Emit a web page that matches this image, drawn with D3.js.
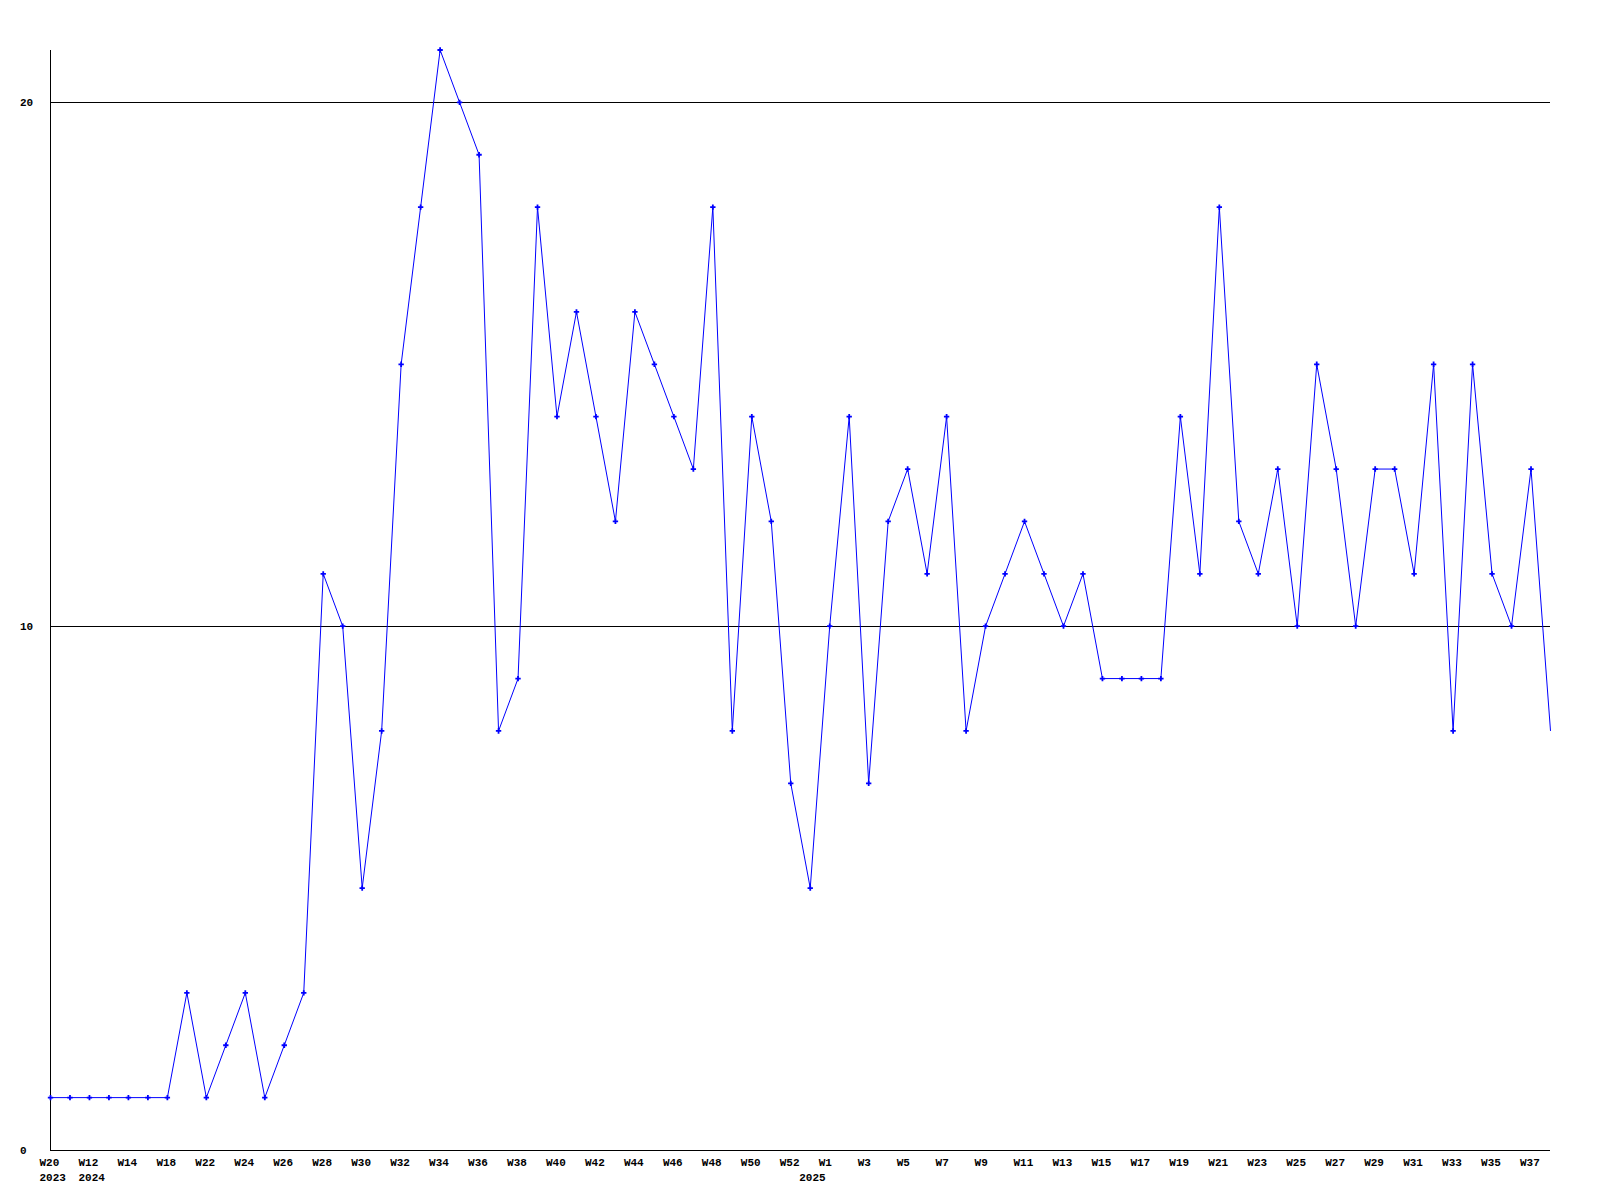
<!DOCTYPE html>
<html>
<head>
<meta charset="utf-8">
<script src="https://cdn.jsdelivr.net/npm/d3@7"></script>
<style>
  body { margin: 0; background: #fff; }
  text { font-family: "Liberation Mono", "DejaVu Sans Mono", monospace; font-weight: bold; font-size: 11px; fill: #000; }
</style>
</head>
<body>
<div id="chart"></div>
<script>
// week labels, one per point
var weeks = ["W20", "W40", "W12", "W13", "W14", "W16", "W18", "W20",
  "W22", "W23", "W24", "W25", "W26", "W27", "W28", "W29", "W30", "W31", "W32", "W33",
  "W34", "W35", "W36", "W37", "W38", "W39", "W40", "W41", "W42", "W43", "W44", "W45",
  "W46", "W47", "W48", "W49", "W50", "W51", "W52",
  "W0", "W1", "W2", "W3", "W4", "W5", "W6", "W7", "W8", "W9", "W10", "W11", "W12",
  "W13", "W14", "W15", "W16", "W17", "W18", "W19", "W20", "W21", "W22", "W23", "W24",
  "W25", "W26", "W27", "W28", "W29", "W30", "W31", "W32", "W33", "W34", "W35", "W36",
  "W37", "W38"];

var counts = [1, 1, 1, 1, 1, 1, 1, 3,
  1, 2, 3, 1, 2, 3, 11, 10, 5, 8, 15, 18,
  21, 20, 19, 8, 9, 18, 14, 16, 14, 12, 16, 15,
  14, 13, 18, 8, 14, 12, 7,
  5, 10, 14, 7, 12, 13, 11, 14, 8, 10, 11, 12, 11,
  10, 11, 9, 9, 9, 9, 14, 11, 18, 12, 11, 13,
  10, 15, 13, 10, 13, 13, 11, 15, 8, 15, 11, 10,
  13, 8];

// year labels and the point where each year starts
var years = ["2023", "2024", "2025"];
var yearStart = [0, 2, 39];

var yTicks = [0, 10, 20];

var svgWidth = 1600, svgHeight = 1200;

var svg = d3.select("#chart").append("svg")
  .attr("width", svgWidth)
  .attr("height", svgHeight);

var x = d3.scalePoint()
  .domain(d3.range(counts.length))
  .range([50.5, 1550.5]);

var y = d3.scaleLinear()
  .domain([0, 21])
  .range([1150, 50]);

// gridlines
svg.append("g").selectAll("line")
  .data(yTicks.filter(d => d > 0))
  .enter().append("line")
  .attr("x1", 50).attr("x2", 1550)
  .attr("y1", d => Math.round(y(d)) + 0.5)
  .attr("y2", d => Math.round(y(d)) + 0.5)
  .attr("stroke", "#000")
  .attr("shape-rendering", "crispEdges");

// axes lines
svg.append("line")
  .attr("x1", 50.5).attr("x2", 50.5)
  .attr("y1", 50).attr("y2", 1150.5)
  .attr("stroke", "#000")
  .attr("shape-rendering", "crispEdges");
svg.append("line")
  .attr("x1", 50).attr("x2", 1550)
  .attr("y1", 1150.5).attr("y2", 1150.5)
  .attr("stroke", "#000")
  .attr("shape-rendering", "crispEdges");

// y labels
svg.append("g").selectAll("text")
  .data(yTicks)
  .enter().append("text")
  .attr("x", 20)
  .attr("y", d => y(d))
  .attr("dy", "0.35em")
  .text(d => d);

// week labels every other point
svg.append("g").selectAll("text")
  .data(weeks.map((w, i) => ({w: w, i: i})).filter(d => d.i % 2 === 0))
  .enter().append("text")
  .attr("x", d => x(d.i) - 11)
  .attr("y", 1166)
  .text(d => d.w);

svg.append("g").selectAll("text")
  .data(years)
  .enter().append("text")
  .attr("x", (d, k) => x(yearStart[k]) - 11)
  .attr("y", 1181)
  .text(d => d);

// line
var line = d3.line()
  .x((d, i) => x(i))
  .y(d => y(d));

svg.append("path")
  .datum(counts)
  .attr("d", line)
  .attr("fill", "none")
  .attr("stroke", "#0000ff")
  .attr("stroke-width", 1);

// markers (last point has none)
svg.append("g").selectAll("path")
  .data(counts.slice(0, counts.length - 1))
  .enter().append("path")
  .attr("d", d3.symbol(d3.symbolCross, 16))
  .attr("transform", (d, i) => `translate(${x(i)},${y(d)})`)
  .attr("fill", "#0000ff");
</script>
</body>
</html>
